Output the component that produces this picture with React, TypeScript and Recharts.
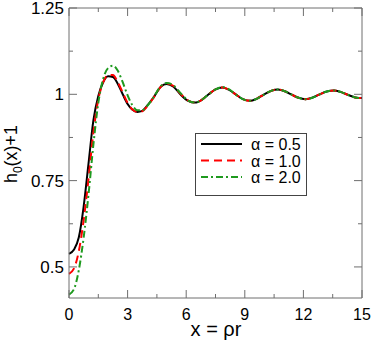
import * as React from "react"
import { LineChart, Line, XAxis, YAxis } from "recharts"

const xs = [
    0, 0.25, 0.5, 0.75, 1, 1.25, 1.5, 1.75, 2, 2.25, 2.5, 2.75, 3, 3.25, 3.5, 3.75, 4,
    4.35, 4.7, 5.0, 5.35, 5.7, 6.1, 6.45, 6.8, 7.15, 7.5, 7.85, 8.2, 8.55, 8.9, 9.27,
    9.6, 10, 10.35, 10.7, 11.05, 11.4, 11.75, 12.1, 12.45, 12.8, 13.2, 13.55, 13.9,
    14.3, 14.65, 15,
]

const alpha05 = [
    0.538, 0.55, 0.585, 0.675, 0.8, 0.925, 0.995, 1.035, 1.052, 1.05, 1.03, 1.0, 0.972,
    0.955, 0.949, 0.952, 0.967, 0.993, 1.022, 1.03, 1.022, 1.0, 0.981, 0.976, 0.984,
    1.0, 1.014, 1.02, 1.013, 0.999, 0.986, 0.981, 0.987, 1.0, 1.01, 1.014, 1.009,
    0.999, 0.99, 0.986, 0.99, 0.999, 1.008, 1.011, 1.007, 0.998, 0.991, 0.989,
]

const alpha10 = [
    0.48, 0.495, 0.545, 0.635, 0.755, 0.89, 0.985, 1.035, 1.056, 1.056, 1.035, 1.005,
    0.975, 0.956, 0.949, 0.951, 0.965, 0.992, 1.022, 1.031, 1.024, 1.002, 0.982, 0.976,
    0.984, 1.0, 1.014, 1.02, 1.013, 0.999, 0.986, 0.981, 0.987, 1.0, 1.01, 1.014, 1.009,
    0.999, 0.99, 0.986, 0.99, 0.999, 1.008, 1.011, 1.007, 0.998, 0.991, 0.989,
]

const alpha20 = [
    0.42, 0.435, 0.49, 0.585, 0.71, 0.855, 0.975, 1.045, 1.076, 1.083, 1.068, 1.035,
    0.997, 0.968, 0.954, 0.954, 0.966, 0.993, 1.024, 1.033, 1.026, 1.004, 0.982, 0.976,
    0.984, 1.0, 1.014, 1.021, 1.014, 0.999, 0.986, 0.981, 0.987, 1.0, 1.01, 1.014,
    1.009, 0.999, 0.99, 0.986, 0.99, 0.999, 1.008, 1.011, 1.007, 0.998, 0.991, 0.989,
]

const seriesNames = ["α = 0.5", "α = 1.0", "α = 2.0"]
const xTicks = [0, 1.5, 3, 4.5, 6, 7.5, 9, 10.5, 12, 13.5, 15]
const xLabels = [0, 3, 6, 9, 12, 15]
const yTicks = [0.5, 0.625, 0.75, 0.875, 1, 1.125, 1.25]
const yLabels = [0.5, 0.75, 1, 1.25]

const data = xs.map((x, i) => ({ x, a: alpha05[i], b: alpha10[i], c: alpha20[i] }))

const font = "'Liberation Sans', Arial, sans-serif"
const frame = "#6e6e6e"

const styles = [
    { key: "a", color: "#000000", dash: undefined },
    { key: "b", color: "#ff0000", dash: "8 5" },
    { key: "c", color: "#1f9a1f", dash: "7 3 2 3" },
]

function bottomTick(props: any) {
    const { x, y, payload } = props
    const major = xLabels.includes(payload.value)
    return (
        <g>
            <line x1={x} x2={x} y1={y} y2={y - (major ? 8 : 4)} stroke={frame} />
            {major && (
                <text x={x} y={y + 22} textAnchor="middle" fontSize={16} fontFamily={font} fill="#000">
                    {payload.value}
                </text>
            )}
        </g>
    )
}

function topTick(props: any) {
    const { x, y, payload } = props
    const major = xLabels.includes(payload.value)
    return <line x1={x} x2={x} y1={y} y2={y + (major ? 8 : 4)} stroke={frame} />
}

function leftTick(props: any) {
    const { x, y, payload } = props
    const major = yLabels.includes(payload.value)
    return (
        <g>
            <line x1={x} x2={x + (major ? 8 : 4)} y1={y} y2={y} stroke={frame} />
            {major && (
                <text x={x - 5} y={y + 6} textAnchor="end" fontSize={17} fontFamily={font} fill="#000">
                    {String(payload.value)}
                </text>
            )}
        </g>
    )
}

function rightTick(props: any) {
    const { x, y, payload } = props
    const major = yLabels.includes(payload.value)
    return <line x1={x} x2={x - (major ? 8 : 4)} y1={y} y2={y} stroke={frame} />
}

function LegendBox() {
    return (
        <div
            style={{
                position: "absolute",
                left: 195,
                top: 133,
                width: 112,
                height: 63,
                border: "1px solid #444",
                background: "#fff",
                boxSizing: "border-box",
            }}
        >
            <svg width={110} height={61} style={{ display: "block" }}>
                {styles.map((s, i) => (
                    <g key={s.key}>
                        <line x1={5} x2={46} y1={10 + i * 16.5} y2={10 + i * 16.5} stroke={s.color} strokeWidth={2} strokeDasharray={s.dash} />
                        <text x={55} y={16 + i * 16.5} fontSize={16} fontFamily={font} fill="#000">
                            {seriesNames[i]}
                        </text>
                    </g>
                ))}
            </svg>
        </div>
    )
}

export default function App() {
    return (
        <div style={{ position: "absolute", left: 0, top: 0, width: 374, height: 340 }}>
            <LineChart width={374} height={340} data={data} margin={{ top: 7, right: 11, bottom: 41, left: 68 }}>
                <XAxis
                    xAxisId="bottom"
                    dataKey="x"
                    type="number"
                    domain={[0, 15]}
                    ticks={xTicks}
                    interval={0}
                    height={1}
                    tickSize={0}
                    tickMargin={0}
                    tickLine={false}
                    axisLine={{ stroke: frame }}
                    tick={bottomTick}
                />
                <XAxis
                    xAxisId="top"
                    orientation="top"
                    dataKey="x"
                    type="number"
                    domain={[0, 15]}
                    ticks={xTicks}
                    interval={0}
                    height={1}
                    tickSize={0}
                    tickMargin={0}
                    tickLine={false}
                    axisLine={{ stroke: frame }}
                    tick={topTick}
                />
                <YAxis
                    yAxisId="left"
                    type="number"
                    domain={[0.41, 1.25]}
                    allowDataOverflow
                    ticks={yTicks}
                    interval={0}
                    width={1}
                    tickSize={0}
                    tickMargin={0}
                    tickLine={false}
                    axisLine={{ stroke: frame }}
                    tick={leftTick}
                />
                <YAxis
                    yAxisId="right"
                    orientation="right"
                    type="number"
                    domain={[0.41, 1.25]}
                    allowDataOverflow
                    ticks={yTicks}
                    interval={0}
                    width={1}
                    tickSize={0}
                    tickMargin={0}
                    tickLine={false}
                    axisLine={{ stroke: frame }}
                    tick={rightTick}
                />
                {styles.map((s, i) => (
                    <Line
                        key={s.key}
                        xAxisId="bottom"
                        yAxisId="left"
                        type="monotone"
                        dataKey={s.key}
                        name={seriesNames[i]}
                        stroke={s.color}
                        strokeWidth={2}
                        strokeDasharray={s.dash}
                        dot={false}
                        isAnimationActive={false}
                    />
                ))}
                <text x={216} y={336} textAnchor="middle" fontSize={20} fontFamily={font} fill="#000">
                    x = ρr
                </text>
                <text transform="translate(17,154) rotate(-90)" textAnchor="middle" fontSize={18} fontFamily={font} fill="#000">
                    h<tspan fontSize={12} dy={5}>0</tspan>
                    <tspan dy={-5}>(x)+1</tspan>
                </text>
            </LineChart>
            <LegendBox />
        </div>
    )
}
